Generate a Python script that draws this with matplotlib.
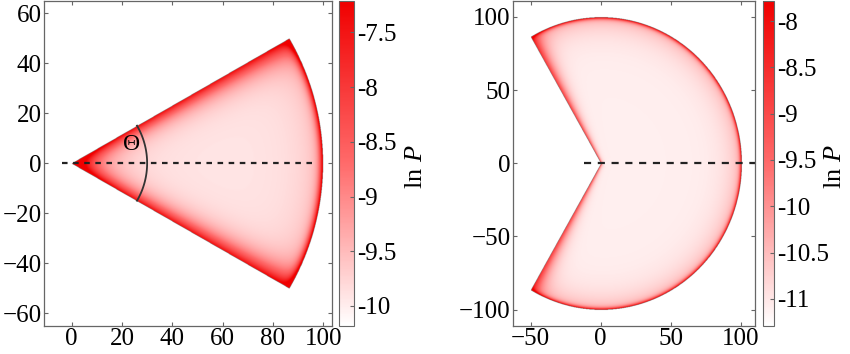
import numpy as np
import matplotlib
matplotlib.use("Agg")
import matplotlib.pyplot as plt
from matplotlib.colors import LinearSegmentedColormap

plt.rcParams['font.family'] = ['Liberation Serif', 'DejaVu Serif']
plt.rcParams['mathtext.fontset'] = 'custom'
plt.rcParams['mathtext.rm'] = 'Liberation Serif'
plt.rcParams['mathtext.it'] = 'Liberation Serif:italic'

# ---- data / parameters ----
radius = [100, 100]                 # sector radius
half_angle_deg = [30, 120]          # half opening angle of each sector
cbar_min = [-10.18, -11.29]
cbar_max = [-7.21, -7.78]
base_level = [-9.92, -11.1]         # ln P deep inside the sector
edge_amp = [2.6, 2.5]               # rise of ln P at straight edges
edge_w0 = [2.5, 0.8]
edge_wk = [0.025, 0.045]
arc_amp = [3.0, 3.3]
arc_w = [1.2, 1.0]
arc_amp2 = [0.5, 0.8]
arc_w2 = [8.0, 9.0]
apex_amp = [1.5, 0.0]
apex_w = [10.0, 1.0]
xlims = [(-11, 103.5), (-62.7, 110)]
ylims = [(-65, 65), (-111, 111)]
xticks = [[0, 20, 40, 60, 80, 100], [-50, 0, 50, 100]]
yticks = [[-60, -40, -20, 0, 20, 40, 60], [-100, -50, 0, 50, 100]]
cticks = [[-10, -9.5, -9, -8.5, -8, -7.5], [-11, -10.5, -10, -9.5, -9, -8.5, -8]]
ctick_labels = [["-10", "-9.5", "-9", "-8.5", "-8", "-7.5"],
                ["-11", "-10.5", "-10", "-9.5", "-9", "-8.5", "-8"]]
dash_x = [(-4, 97), (-12, 112)]
dash_pat = [(0, (2.5, 2.5)), (0, (3.2, 3.0))]
theta_arc_r = 30
theta_label_pos = (23.8, 7.3)

cmap = LinearSegmentedColormap.from_list("wr", ["#ffffff", "#ff6a6a", "#f00000"])

fig = plt.figure(figsize=(8.5, 3.54), dpi=100)
B, H = 0.08, 0.918
ax_pos = [[44 / 850, B, (332 - 44) / 850, H], [0.6032, B, 0.2851, H]]
cb_pos = [[0.3988, B, 0.0176, H], [0.8973, B, 0.0135, H]]
label_x = [416 / 850, 835 / 850]
FS = 18


def field(i, X, Y):
    R = radius[i]
    a = np.deg2rad(half_angle_deg[i])
    r = np.hypot(X, Y)
    th = np.arctan2(Y, X)
    inside = (r <= R) & (np.abs(th) <= a)
    w = edge_w0[i] + edge_wk[i] * r
    du = np.where(a - th < np.pi / 2, r * np.sin(np.clip(a - th, 0, None)), np.inf)
    dl = np.where(a + th < np.pi / 2, r * np.sin(np.clip(a + th, 0, None)), np.inf)
    da = np.clip(R - r, 0, None)
    f = (base_level[i]
         + edge_amp[i] * (np.exp(-du / w) + np.exp(-dl / w))
         + arc_amp[i] * np.exp(-da / arc_w[i])
         + arc_amp2[i] * np.exp(-da / arc_w2[i])
         + apex_amp[i] * np.exp(-r / apex_w[i]))
    f = np.clip(f, cbar_min[i], cbar_max[i])
    return np.where(inside, f, np.nan)


for i in range(2):
    ax = fig.add_axes(ax_pos[i])
    x = np.linspace(xlims[i][0], xlims[i][1], 900)
    y = np.linspace(ylims[i][0], ylims[i][1], 900)
    X, Y = np.meshgrid(x, y)
    Z = field(i, X, Y)
    im = ax.imshow(Z, origin='lower', extent=(x[0], x[-1], y[0], y[-1]),
                   cmap=cmap, vmin=cbar_min[i], vmax=cbar_max[i],
                   aspect='auto', interpolation='bilinear')
    ax.set_xlim(xlims[i])
    ax.set_ylim(ylims[i])
    ax.set_xticks(xticks[i])
    ax.set_yticks(yticks[i])
    ax.tick_params(direction='in', length=3, width=0.8, color='#666666',
                   top=True, right=True, labelsize=FS, pad=2)
    ax.tick_params(axis='y', pad=1.5)
    for s in ax.spines.values():
        s.set_color('#666666')
        s.set_linewidth(0.9)
    ax.plot(dash_x[i], [0, 0], ls=dash_pat[i], color='#222222', lw=1.6)
    if i == 0:
        a = np.deg2rad(half_angle_deg[0])
        t = np.linspace(-a, a, 100)
        ax.plot(theta_arc_r * np.cos(t), theta_arc_r * np.sin(t), color='#333333', lw=1.3)
        ax.text(theta_label_pos[0], theta_label_pos[1], 'Θ', fontsize=17,
                ha='center', va='center')
    cax = fig.add_axes(cb_pos[i])
    cb = fig.colorbar(im, cax=cax)
    cb.set_ticks(cticks[i])
    cb.set_ticklabels(ctick_labels[i])
    cax.tick_params(direction='in', length=3, color='#666666', labelsize=FS, pad=2)
    cb.outline.set_edgecolor('#666666')
    fig.text(label_x[i], 0.53, r'ln $P$', rotation=90, fontsize=19,
             ha='center', va='center')

fig.savefig('out.png', dpi=100)
